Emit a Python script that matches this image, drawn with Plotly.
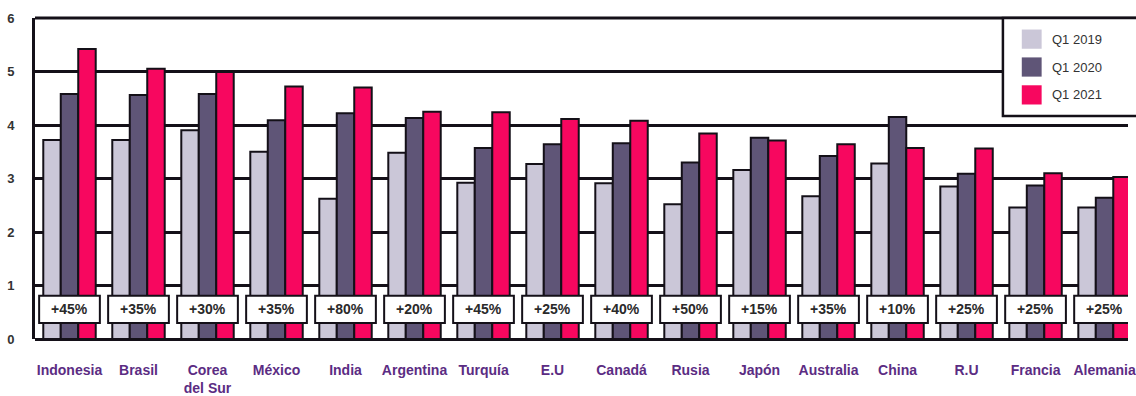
import plotly.graph_objects as go

countries = ["Indonesia", "Brasil", "Corea<br>del Sur", "México", "India", "Argentina", "Turquía", "E.U",
             "Canadá", "Rusia", "Japón", "Australia", "China", "R.U", "Francia", "Alemania"]
q1_2019 = [3.72, 3.72, 3.90, 3.50, 2.62, 3.48, 2.92, 3.27, 2.91, 2.52, 3.16, 2.67, 3.28, 2.85, 2.46, 2.46]
q1_2020 = [4.58, 4.56, 4.58, 4.09, 4.22, 4.13, 3.57, 3.64, 3.66, 3.30, 3.76, 3.42, 4.15, 3.09, 2.87, 2.64]
q1_2021 = [5.42, 5.05, 4.99, 4.72, 4.70, 4.25, 4.24, 4.11, 4.08, 3.84, 3.71, 3.64, 3.57, 3.56, 3.10, 3.03]
growth = ["+45%", "+35%", "+30%", "+35%", "+80%", "+20%", "+45%", "+25%",
          "+40%", "+50%", "+15%", "+35%", "+10%", "+25%", "+25%", "+25%"]
series_names = ["Q1 2019", "Q1 2020", "Q1 2021"]
colors = ["#cbc7d8", "#5f5577", "#f7075f"]
y_max = 6

fig = go.Figure()
for name, vals, col in zip(series_names, [q1_2019, q1_2020, q1_2021], colors):
    fig.add_trace(go.Bar(x=countries, y=vals, name=name, marker=dict(color=col, line=dict(color="#141018", width=2)),
                         showlegend=False))

shapes = []
annotations = []
# top frame line at 6
shapes.append(dict(type="line", xref="paper", yref="paper", x0=0, x1=1.05, y0=1, y1=1,
                   line=dict(color="#141018", width=3), layer="above"))
for i, g in enumerate(growth):
    shapes.append(dict(type="rect", xref="x", yref="y", x0=i - 0.44, x1=i + 0.44, y0=0.30, y1=0.81,
                       fillcolor="white", line=dict(color="#141018", width=2), layer="above"))
    annotations.append(dict(x=i, y=0.555, xref="x", yref="y", text=g, showarrow=False,
                            font=dict(family="Liberation Sans, Arial", size=14, color="#2a2a2a", weight="bold")))

# legend box
L = 35
W = 1101
H = 334
def px(xp):
    return (xp - L) / W
def py(yp):
    return (352 - yp) / H

shapes.append(dict(type="rect", xref="paper", yref="paper", x0=px(1010), x1=px(1160), y0=py(120), y1=py(18),
                   fillcolor="white", line=dict(color="#141018", width=2.5), layer="above"))
for k, (name, col) in enumerate(zip(series_names, colors)):
    yc = 40 + 29 * k
    shapes.append(dict(type="rect", xref="paper", yref="paper", x0=px(1029), x1=px(1049), y0=py(yc + 10), y1=py(yc - 10),
                       fillcolor=col, line=dict(width=0), layer="above"))
    annotations.append(dict(x=px(1057), y=py(yc), xref="paper", yref="paper", text=name, showarrow=False,
                            xanchor="left", yanchor="middle",
                            font=dict(family="Liberation Sans, Arial", size=13, color="#333333")))

fig.update_layout(
    width=1136, height=396,
    margin=dict(l=35, r=0, t=18, b=44),
    paper_bgcolor="white", plot_bgcolor="white",
    barmode="group", bargap=0.24, bargroupgap=0,
    shapes=shapes, annotations=annotations,
    xaxis=dict(type="category", range=[-0.5, 15.34], showgrid=False, showline=False,
               ticks="outside", ticklen=18, tickcolor="rgba(0,0,0,0)", tickangle=0,
               tickfont=dict(family="Liberation Sans, Arial", size=14, color="#5b2c83", weight="bold")),
    yaxis=dict(range=[0, y_max], dtick=1, showgrid=True, gridcolor="#141018", gridwidth=2.5,
               zeroline=True, zerolinecolor="#141018", zerolinewidth=3,
               showline=True, linecolor="#141018", linewidth=3,
               ticks="outside", ticklen=15, tickcolor="rgba(0,0,0,0)",
               tickfont=dict(family="Liberation Sans, Arial", size=13, color="#333333", weight="bold")),
)

fig.write_html("out.html")
